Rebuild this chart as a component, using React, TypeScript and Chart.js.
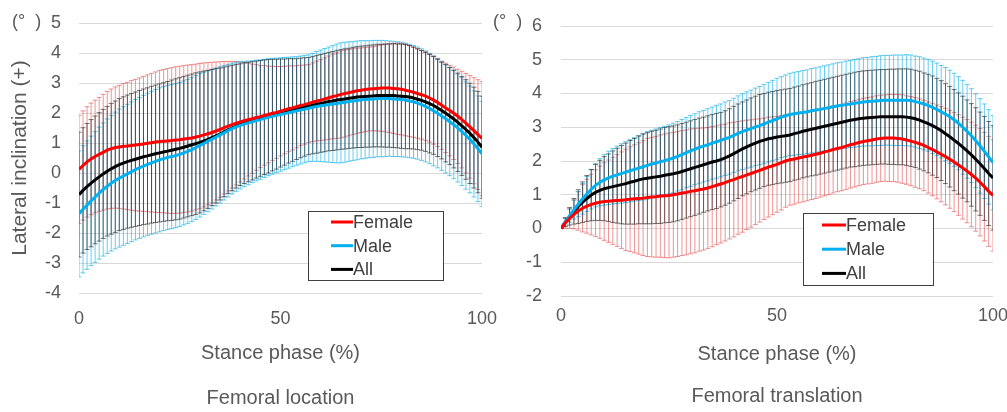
import React, { useEffect, useRef } from "react";
import { Chart, registerables } from "chart.js";

Chart.register(...registerables);

// ---------- data ----------
const PHASE = Array.from({ length: 101 }, (_, i) => i); // stance phase 0..100 %
const SERIES_LABELS = ["Female", "Male", "All"];
const SERIES_COLORS = ["#FF0000", "#00B0F0", "#000000"];
const BAR_COLORS = ["rgba(225,60,60,0.55)", "rgba(0,170,230,0.6)", "rgba(30,30,30,0.6)"];
const X_TITLE = "Stance phase (%)";
const Y_TITLE = "Lateral inclination (+)";
const UNIT_LABEL = "(°  )";
const CAPTIONS = ["Femoral location", "Femoral translation"];
const X_TICK_STEP = 50;
const LOC_Y_RANGE = [-4, 5];
const TRANS_Y_RANGE = [-2, 6];

// Femoral location (left panel): mean and SD
const LOC_FEMALE = [
  0.12, 0.25, 0.37, 0.47, 0.55, 0.62, 0.69, 0.76, 0.81, 0.85,
  0.87, 0.89, 0.90, 0.92, 0.93, 0.95, 0.97, 0.99, 1.01, 1.03,
  1.05, 1.06, 1.07, 1.08, 1.10, 1.11, 1.13, 1.15, 1.17, 1.20,
  1.23, 1.27, 1.31, 1.35, 1.40, 1.45, 1.51, 1.56, 1.61, 1.66,
  1.70, 1.74, 1.78, 1.81, 1.85, 1.88, 1.92, 1.95, 1.99, 2.02,
  2.06, 2.10, 2.14, 2.17, 2.21, 2.25, 2.28, 2.32, 2.36, 2.40,
  2.43, 2.47, 2.51, 2.55, 2.58, 2.62, 2.65, 2.68, 2.71, 2.74,
  2.76, 2.78, 2.80, 2.81, 2.82, 2.83, 2.83, 2.83, 2.82, 2.81,
  2.79, 2.76, 2.73, 2.69, 2.65, 2.61, 2.56, 2.50, 2.43, 2.35,
  2.26, 2.17, 2.08, 1.99, 1.89, 1.78, 1.66, 1.54, 1.41, 1.28,
  1.15,
];
const LOC_MALE = [
  -1.36, -1.21, -1.07, -0.93, -0.80, -0.67, -0.55, -0.44, -0.34, -0.25,
  -0.17, -0.10, -0.03, 0.04, 0.11, 0.17, 0.23, 0.29, 0.34, 0.39,
  0.44, 0.48, 0.52, 0.55, 0.58, 0.62, 0.67, 0.72, 0.78, 0.85,
  0.92, 0.99, 1.06, 1.13, 1.20, 1.27, 1.34, 1.41, 1.48, 1.54,
  1.59, 1.63, 1.67, 1.71, 1.75, 1.78, 1.82, 1.86, 1.89, 1.92,
  1.95, 1.98, 2.01, 2.04, 2.07, 2.10, 2.13, 2.16, 2.19, 2.22,
  2.24, 2.26, 2.28, 2.30, 2.32, 2.34, 2.36, 2.38, 2.40, 2.42,
  2.44, 2.45, 2.46, 2.47, 2.48, 2.48, 2.48, 2.48, 2.47, 2.46,
  2.45, 2.43, 2.40, 2.37, 2.33, 2.28, 2.22, 2.15, 2.07, 1.99,
  1.90, 1.81, 1.71, 1.61, 1.50, 1.38, 1.25, 1.12, 0.97, 0.81,
  0.64,
];
const LOC_ALL = [
  -0.72, -0.58, -0.45, -0.34, -0.23, -0.13, -0.03, 0.06, 0.14, 0.21,
  0.28, 0.33, 0.38, 0.42, 0.46, 0.50, 0.54, 0.57, 0.61, 0.64,
  0.67, 0.70, 0.73, 0.76, 0.79, 0.82, 0.86, 0.90, 0.94, 0.98,
  1.02, 1.07, 1.12, 1.18, 1.24, 1.30, 1.37, 1.44, 1.50, 1.56,
  1.61, 1.66, 1.70, 1.74, 1.78, 1.82, 1.86, 1.89, 1.93, 1.96,
  2.00, 2.03, 2.07, 2.10, 2.13, 2.17, 2.20, 2.23, 2.26, 2.29,
  2.32, 2.35, 2.38, 2.40, 2.43, 2.45, 2.47, 2.49, 2.51, 2.53,
  2.54, 2.55, 2.56, 2.57, 2.58, 2.58, 2.58, 2.58, 2.58, 2.57,
  2.56, 2.55, 2.53, 2.50, 2.46, 2.42, 2.37, 2.31, 2.25, 2.17,
  2.08, 1.99, 1.90, 1.80, 1.69, 1.57, 1.45, 1.32, 1.18, 1.03,
  0.86,
];
const LOC_FEMALE_SD = [
  1.80, 1.82, 1.84, 1.86, 1.88, 1.90, 1.93, 1.96, 1.99, 2.02,
  2.05, 2.09, 2.12, 2.16, 2.19, 2.22, 2.25, 2.28, 2.31, 2.34,
  2.37, 2.39, 2.41, 2.43, 2.44, 2.45, 2.45, 2.45, 2.44, 2.43,
  2.42, 2.40, 2.37, 2.34, 2.30, 2.26, 2.21, 2.16, 2.11, 2.06,
  2.00, 1.94, 1.88, 1.82, 1.76, 1.70, 1.66, 1.61, 1.57, 1.53,
  1.49, 1.46, 1.43, 1.40, 1.37, 1.34, 1.32, 1.30, 1.31, 1.33,
  1.35, 1.37, 1.39, 1.41, 1.43, 1.45, 1.45, 1.44, 1.43, 1.42,
  1.41, 1.40, 1.40, 1.40, 1.42, 1.44, 1.46, 1.48, 1.50, 1.52,
  1.52, 1.52, 1.51, 1.50, 1.49, 1.48, 1.48, 1.47, 1.47, 1.47,
  1.47, 1.49, 1.51, 1.54, 1.57, 1.61, 1.66, 1.71, 1.77, 1.83,
  1.90,
];
const LOC_MALE_SD = [
  2.10, 2.12, 2.14, 2.16, 2.18, 2.20, 2.22, 2.24, 2.26, 2.28,
  2.30, 2.31, 2.32, 2.33, 2.34, 2.35, 2.36, 2.37, 2.38, 2.39,
  2.40, 2.40, 2.40, 2.40, 2.40, 2.40, 2.40, 2.40, 2.40, 2.40,
  2.39, 2.37, 2.35, 2.33, 2.30, 2.27, 2.24, 2.21, 2.18, 2.15,
  2.12, 2.09, 2.06, 2.03, 2.01, 1.99, 1.97, 1.95, 1.93, 1.91,
  1.89, 1.87, 1.85, 1.83, 1.81, 1.80, 1.79, 1.78, 1.80, 1.83,
  1.86, 1.89, 1.92, 1.95, 1.98, 2.00, 2.00, 1.99, 1.98, 1.98,
  1.97, 1.96, 1.95, 1.95, 1.94, 1.94, 1.93, 1.92, 1.92, 1.91,
  1.91, 1.90, 1.89, 1.88, 1.87, 1.86, 1.85, 1.84, 1.83, 1.82,
  1.81, 1.81, 1.80, 1.80, 1.80, 1.80, 1.79, 1.78, 1.77, 1.76,
  1.75,
];
const LOC_ALL_SD = [
  2.08, 2.09, 2.10, 2.12, 2.13, 2.14, 2.15, 2.16, 2.18, 2.19,
  2.20, 2.21, 2.22, 2.23, 2.24, 2.25, 2.26, 2.27, 2.28, 2.29,
  2.30, 2.31, 2.32, 2.34, 2.35, 2.36, 2.36, 2.36, 2.36, 2.36,
  2.35, 2.33, 2.30, 2.27, 2.24, 2.20, 2.16, 2.12, 2.09, 2.06,
  2.03, 2.01, 1.99, 1.97, 1.95, 1.93, 1.91, 1.89, 1.86, 1.83,
  1.80, 1.77, 1.74, 1.71, 1.68, 1.66, 1.64, 1.62, 1.62, 1.63,
  1.63, 1.64, 1.64, 1.65, 1.66, 1.66, 1.67, 1.67, 1.68, 1.68,
  1.69, 1.69, 1.70, 1.70, 1.71, 1.71, 1.72, 1.72, 1.73, 1.73,
  1.74, 1.74, 1.72, 1.70, 1.68, 1.66, 1.65, 1.64, 1.63, 1.62,
  1.61, 1.62, 1.62, 1.63, 1.64, 1.65, 1.66, 1.67, 1.68, 1.69,
  1.70,
];

// Femoral translation (right panel): mean and SD
const TRANS_FEMALE = [
  0.00, 0.16, 0.30, 0.42, 0.52, 0.60, 0.66, 0.71, 0.75, 0.78,
  0.80, 0.81, 0.82, 0.83, 0.84, 0.85, 0.87, 0.88, 0.89, 0.90,
  0.92, 0.93, 0.94, 0.96, 0.97, 0.98, 1.00, 1.02, 1.05, 1.07,
  1.10, 1.12, 1.15, 1.17, 1.20, 1.24, 1.28, 1.32, 1.36, 1.41,
  1.45, 1.50, 1.54, 1.59, 1.63, 1.68, 1.72, 1.77, 1.82, 1.86,
  1.90, 1.95, 2.00, 2.04, 2.06, 2.09, 2.12, 2.14, 2.17, 2.20,
  2.23, 2.27, 2.30, 2.34, 2.37, 2.40, 2.44, 2.48, 2.51, 2.55,
  2.58, 2.60, 2.62, 2.65, 2.67, 2.68, 2.68, 2.68, 2.67, 2.65,
  2.62, 2.59, 2.55, 2.51, 2.46, 2.40, 2.34, 2.27, 2.20, 2.13,
  2.05, 1.97, 1.88, 1.79, 1.70, 1.60, 1.49, 1.37, 1.24, 1.10,
  0.98,
];
const TRANS_MALE = [
  0.00, 0.20, 0.38, 0.56, 0.72, 0.88, 1.02, 1.16, 1.28, 1.37,
  1.44, 1.50, 1.55, 1.59, 1.63, 1.67, 1.71, 1.75, 1.79, 1.83,
  1.87, 1.91, 1.94, 1.98, 2.01, 2.05, 2.09, 2.14, 2.19, 2.25,
  2.30, 2.35, 2.40, 2.44, 2.48, 2.53, 2.57, 2.61, 2.66, 2.70,
  2.76, 2.82, 2.87, 2.92, 2.96, 3.01, 3.05, 3.10, 3.15, 3.20,
  3.25, 3.30, 3.34, 3.38, 3.40, 3.42, 3.44, 3.46, 3.49, 3.51,
  3.53, 3.56, 3.58, 3.61, 3.63, 3.65, 3.67, 3.69, 3.71, 3.73,
  3.75, 3.76, 3.77, 3.78, 3.79, 3.80, 3.80, 3.80, 3.80, 3.80,
  3.80, 3.79, 3.76, 3.73, 3.69, 3.65, 3.59, 3.53, 3.46, 3.39,
  3.31, 3.22, 3.12, 3.00, 2.88, 2.75, 2.60, 2.45, 2.29, 2.12,
  1.95,
];
const TRANS_ALL = [
  0.00, 0.19, 0.36, 0.51, 0.65, 0.78, 0.89, 0.99, 1.07, 1.13,
  1.18, 1.21, 1.24, 1.27, 1.30, 1.33, 1.37, 1.40, 1.44, 1.47,
  1.49, 1.51, 1.53, 1.55, 1.58, 1.60, 1.62, 1.65, 1.69, 1.73,
  1.77, 1.81, 1.85, 1.89, 1.93, 1.97, 2.00, 2.04, 2.09, 2.15,
  2.22, 2.29, 2.36, 2.42, 2.48, 2.53, 2.58, 2.62, 2.66, 2.68,
  2.71, 2.73, 2.75, 2.77, 2.81, 2.84, 2.88, 2.91, 2.94, 2.97,
  3.00, 3.03, 3.06, 3.09, 3.12, 3.15, 3.18, 3.21, 3.23, 3.25,
  3.27, 3.28, 3.29, 3.30, 3.31, 3.31, 3.31, 3.31, 3.31, 3.31,
  3.30, 3.28, 3.25, 3.21, 3.16, 3.11, 3.05, 2.98, 2.90, 2.81,
  2.72, 2.62, 2.52, 2.41, 2.30, 2.18, 2.05, 1.92, 1.78, 1.63,
  1.50,
];
const TRANS_FEMALE_SD = [
  0.00, 0.15, 0.29, 0.43, 0.57, 0.70, 0.80, 0.90, 0.99, 1.07,
  1.15, 1.22, 1.29, 1.36, 1.43, 1.50, 1.55, 1.60, 1.65, 1.70,
  1.75, 1.77, 1.79, 1.81, 1.83, 1.85, 1.85, 1.85, 1.85, 1.85,
  1.85, 1.84, 1.82, 1.81, 1.79, 1.78, 1.76, 1.75, 1.73, 1.72,
  1.70, 1.67, 1.65, 1.62, 1.59, 1.56, 1.53, 1.50, 1.48, 1.45,
  1.42, 1.40, 1.37, 1.35, 1.34, 1.33, 1.33, 1.32, 1.31, 1.31,
  1.30, 1.30, 1.29, 1.29, 1.28, 1.28, 1.28, 1.28, 1.28, 1.28,
  1.28, 1.28, 1.28, 1.28, 1.28, 1.28, 1.29, 1.29, 1.30, 1.31,
  1.31, 1.32, 1.33, 1.33, 1.34, 1.35, 1.37, 1.39, 1.41, 1.43,
  1.45, 1.47, 1.49, 1.51, 1.53, 1.55, 1.57, 1.59, 1.61, 1.63,
  1.65,
];
const TRANS_MALE_SD = [
  0.00, 0.10, 0.19, 0.28, 0.37, 0.45, 0.52, 0.58, 0.64, 0.70,
  0.75, 0.79, 0.82, 0.85, 0.88, 0.90, 0.92, 0.94, 0.96, 0.98,
  1.00, 1.00, 1.01, 1.01, 1.02, 1.02, 1.03, 1.03, 1.04, 1.04,
  1.05, 1.05, 1.06, 1.06, 1.07, 1.07, 1.08, 1.08, 1.09, 1.09,
  1.10, 1.11, 1.12, 1.13, 1.14, 1.15, 1.16, 1.17, 1.18, 1.19,
  1.20, 1.20, 1.21, 1.22, 1.23, 1.23, 1.24, 1.24, 1.25, 1.25,
  1.26, 1.26, 1.27, 1.27, 1.28, 1.28, 1.29, 1.29, 1.30, 1.30,
  1.31, 1.31, 1.32, 1.32, 1.33, 1.33, 1.33, 1.34, 1.34, 1.34,
  1.35, 1.35, 1.35, 1.36, 1.36, 1.36, 1.37, 1.37, 1.37, 1.38,
  1.38, 1.38, 1.38, 1.39, 1.39, 1.39, 1.39, 1.40, 1.40, 1.40,
  1.40,
];
const TRANS_ALL_SD = [
  0.00, 0.13, 0.26, 0.38, 0.50, 0.60, 0.68, 0.76, 0.83, 0.89,
  0.95, 1.00, 1.06, 1.11, 1.16, 1.20, 1.24, 1.27, 1.30, 1.33,
  1.35, 1.37, 1.38, 1.40, 1.41, 1.42, 1.42, 1.42, 1.42, 1.42,
  1.42, 1.42, 1.42, 1.41, 1.41, 1.41, 1.41, 1.40, 1.40, 1.40,
  1.40, 1.40, 1.39, 1.39, 1.39, 1.39, 1.39, 1.38, 1.38, 1.38,
  1.38, 1.38, 1.38, 1.38, 1.38, 1.38, 1.38, 1.38, 1.38, 1.39,
  1.39, 1.39, 1.39, 1.39, 1.39, 1.39, 1.39, 1.39, 1.40, 1.40,
  1.40, 1.40, 1.40, 1.40, 1.40, 1.40, 1.41, 1.41, 1.42, 1.42,
  1.43, 1.44, 1.44, 1.45, 1.45, 1.46, 1.47, 1.47, 1.48, 1.48,
  1.49, 1.50, 1.50, 1.51, 1.51, 1.52, 1.53, 1.53, 1.54, 1.54,
  1.55,
];

// ---------- styling ----------
const FONT = "'Liberation Sans', Arial, sans-serif";
const TEXT = "#595959";
const GRID = "#d9d9d9";

// error bars drawn behind the mean lines
const errorBarPlugin = {
  id: "errorBars",
  beforeDatasetsDraw(chart: any) {
    const { ctx, chartArea } = chart;
    const xs = chart.scales.x;
    const ys = chart.scales.y;
    const cap = 2.5;
    ctx.save();
    ctx.beginPath();
    ctx.rect(chartArea.left, chartArea.top, chartArea.right - chartArea.left, chartArea.bottom - chartArea.top);
    ctx.clip();
    chart.data.datasets.forEach((ds: any) => {
      const sd: number[] = ds.errorSd;
      ctx.strokeStyle = ds.barColor;
      ctx.lineWidth = 1;
      ctx.beginPath();
      ds.data.forEach((p: any, i: number) => {
        const x = xs.getPixelForValue(p.x);
        const yTop = ys.getPixelForValue(p.y + sd[i]);
        const yBot = ys.getPixelForValue(p.y - sd[i]);
        ctx.moveTo(x, yTop);
        ctx.lineTo(x, yBot);
        ctx.moveTo(x - cap, yTop);
        ctx.lineTo(x + cap, yTop);
        ctx.moveTo(x - cap, yBot);
        ctx.lineTo(x + cap, yBot);
      });
      ctx.stroke();
    });
    ctx.restore();
  },
};

// boxed legend placed inside the plot area
const boxLegendPlugin = {
  id: "boxLegend",
  afterDraw(chart: any, _args: any, opts: any) {
    const { ctx } = chart;
    ctx.save();
    ctx.fillStyle = "#ffffff";
    ctx.fillRect(opts.x, opts.y, opts.w, opts.h);
    ctx.strokeStyle = "#404040";
    ctx.lineWidth = 1;
    ctx.strokeRect(opts.x + 0.5, opts.y + 0.5, opts.w, opts.h);
    ctx.font = `18px ${FONT}`;
    ctx.textBaseline = "middle";
    ctx.textAlign = "left";
    chart.data.datasets.forEach((ds: any, i: number) => {
      const cy = opts.y + opts.firstRow + i * opts.rowH;
      ctx.strokeStyle = ds.borderColor;
      ctx.lineWidth = 3;
      ctx.beginPath();
      ctx.moveTo(opts.x + opts.sampleX, cy);
      ctx.lineTo(opts.x + opts.sampleX + opts.sampleW, cy);
      ctx.stroke();
      ctx.fillStyle = "#404040";
      ctx.fillText(ds.label, opts.x + opts.sampleX + opts.sampleW, cy + 1);
    });
    ctx.restore();
  },
};

// unit label "(°)" above the y axis
const unitLabelPlugin = {
  id: "unitLabel",
  afterDraw(chart: any, _args: any, opts: any) {
    const { ctx } = chart;
    ctx.save();
    ctx.font = `18px ${FONT}`;
    ctx.fillStyle = TEXT;
    ctx.textBaseline = "middle";
    ctx.textAlign = "left";
    ctx.fillText(opts.text, opts.x, opts.y);
    ctx.restore();
  },
};

type PanelSpec = {
  means: number[][];
  sds: number[][];
  yRange: number[];
  caption: string;
  showYTitle: boolean;
  padTop: number;
  padRight: number;
  yAxisW: number;
  yTickPad: number;
  xAxisH: number;
  xTickPad: number;
  xTitlePad: number;
  captionPad: number;
  legend: any;
  unit: any;
};

function buildConfig(p: PanelSpec): any {
  return {
    type: "line",
    data: {
      datasets: p.means.map((m, i) => ({
        label: SERIES_LABELS[i],
        data: PHASE.map((x, k) => ({ x, y: m[k] })),
        errorSd: p.sds[i],
        barColor: BAR_COLORS[i],
        borderColor: SERIES_COLORS[i],
        backgroundColor: SERIES_COLORS[i],
        borderWidth: 3,
        pointRadius: 0,
        tension: 0,
        fill: false,
      })),
    },
    options: {
      responsive: false,
      animation: false,
      devicePixelRatio: 1,
      layout: { padding: { top: p.padTop, right: p.padRight, left: 0, bottom: 0 } },
      scales: {
        x: {
          type: "linear",
          min: 0,
          max: 100,
          ticks: { stepSize: X_TICK_STEP, padding: p.xTickPad, color: TEXT, font: { family: FONT, size: 18 } },
          grid: { display: false, drawTicks: false },
          border: { display: false },
          title: {
            display: true,
            text: X_TITLE,
            color: TEXT,
            font: { family: FONT, size: 20 },
            padding: { top: 0, bottom: p.xTitlePad },
          },
          afterFit: (s: any) => {
            s.height = p.xAxisH;
            s.paddingLeft = 0;
            s.paddingRight = 0;
          },
        },
        y: {
          type: "linear",
          min: p.yRange[0],
          max: p.yRange[1],
          ticks: { stepSize: 1, padding: p.yTickPad, color: TEXT, font: { family: FONT, size: 18 } },
          grid: { color: GRID, lineWidth: 1, drawTicks: false },
          border: { display: false },
          title: {
            display: p.showYTitle,
            text: Y_TITLE,
            color: TEXT,
            font: { family: FONT, size: 21 },
            padding: { top: 8, bottom: 0 },
          },
          afterFit: (s: any) => {
            s.width = p.yAxisW;
            s.paddingTop = 0;
            s.paddingBottom = 0;
          },
        },
      },
      plugins: {
        legend: { display: false },
        tooltip: { enabled: false },
        title: {
          display: true,
          position: "bottom",
          fullSize: false,
          text: p.caption,
          color: TEXT,
          font: { family: FONT, size: 20, weight: "normal" },
          padding: { top: 0, bottom: p.captionPad },
        },
        boxLegend: p.legend,
        unitLabel: p.unit,
      },
    },
    plugins: [errorBarPlugin, boxLegendPlugin, unitLabelPlugin],
  };
}

const LEFT_SPEC: PanelSpec = {
  means: [LOC_FEMALE, LOC_MALE, LOC_ALL],
  sds: [LOC_FEMALE_SD, LOC_MALE_SD, LOC_ALL_SD],
  yRange: LOC_Y_RANGE,
  caption: CAPTIONS[0],
  showYTitle: true,
  padTop: 23,
  padRight: 18,
  yAxisW: 79,
  yTickPad: 18,
  xAxisH: 93,
  xTickPad: 15,
  xTitlePad: 21,
  captionPad: 2,
  legend: { x: 308, y: 211, w: 135, h: 69, firstRow: 11, rowH: 23.7, sampleX: 23, sampleW: 22 },
  unit: { text: UNIT_LABEL, x: 12, y: 22 },
};

const RIGHT_SPEC: PanelSpec = {
  means: [TRANS_FEMALE, TRANS_MALE, TRANS_ALL],
  sds: [TRANS_FEMALE_SD, TRANS_MALE_SD, TRANS_ALL_SD],
  yRange: TRANS_Y_RANGE,
  caption: CAPTIONS[1],
  showYTitle: false,
  padTop: 26,
  padRight: 14,
  yAxisW: 76,
  yTickPad: 19,
  xAxisH: 88,
  xTickPad: 9,
  xTitlePad: 18,
  captionPad: 4,
  legend: { x: 318, y: 213, w: 130, h: 72, firstRow: 12, rowH: 24.2, sampleX: 19, sampleW: 24 },
  unit: { text: UNIT_LABEL, x: 8, y: 22 },
};

function Panel({ spec, left, width }: { spec: PanelSpec; left: number; width: number }) {
  const ref = useRef<HTMLCanvasElement>(null);
  useEffect(() => {
    if (!ref.current) return;
    const chart = new Chart(ref.current, buildConfig(spec));
    return () => chart.destroy();
  }, [spec]);
  return (
    <canvas
      ref={ref}
      width={width}
      height={412}
      style={{ position: "absolute", left, top: 0, width, height: 412 }}
    />
  );
}

export default function App() {
  return (
    <div
      style={{
        position: "absolute",
        left: 0,
        top: 0,
        width: 1007,
        height: 412,
        background: "#ffffff",
        overflow: "hidden",
      }}
    >
      <Panel spec={LEFT_SPEC} left={0} width={500} />
      <Panel spec={RIGHT_SPEC} left={485} width={522} />
    </div>
  );
}
